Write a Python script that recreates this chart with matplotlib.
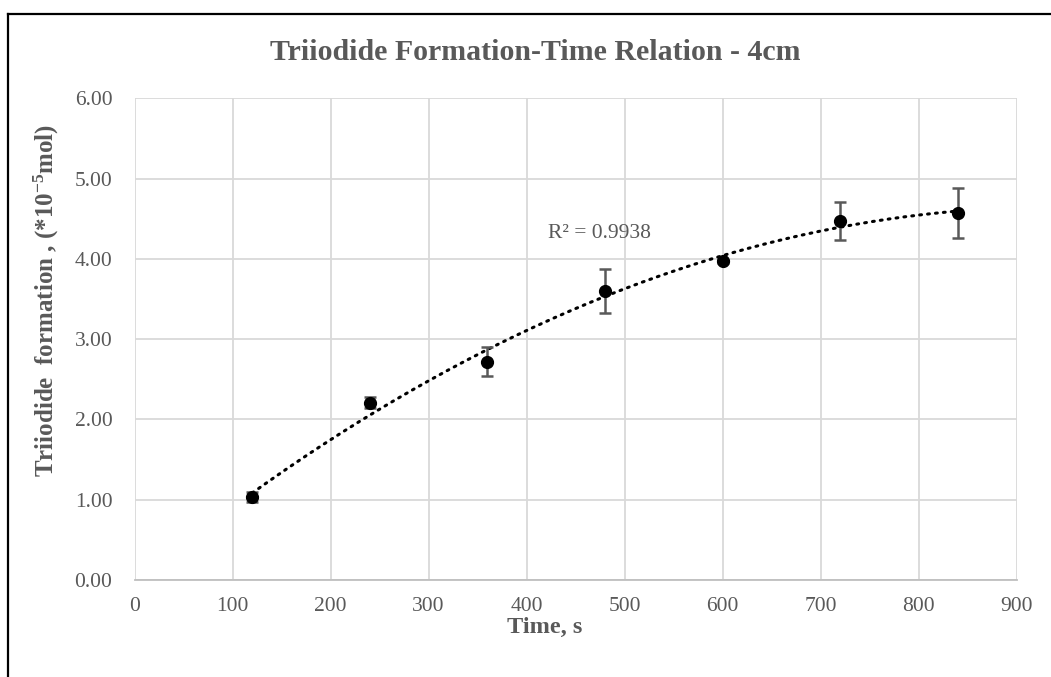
import matplotlib
matplotlib.use("Agg")
import matplotlib.pyplot as plt
from matplotlib.lines import Line2D
import numpy as np

plt.rcParams['font.family'] = ['Liberation Serif', 'DejaVu Serif']
plt.rcParams['mathtext.fontset'] = 'custom'
plt.rcParams['mathtext.rm'] = 'Liberation Serif:bold'
plt.rcParams['mathtext.default'] = 'rm'

# data
time_s = [120, 240, 360, 480, 600, 720, 840]
triiodide = [1.03, 2.21, 2.72, 3.60, 3.97, 4.47, 4.57]
err = [0.06, 0.07, 0.18, 0.27, 0.02, 0.24, 0.31]
r2_label = "R\u00b2 = 0.9938"

grey = '#595959'

fig = plt.figure(figsize=(10.51, 6.77), dpi=100)
ax = fig.add_axes([0.128, 0.1433, 0.8394, 0.7115])

# polynomial (order 2) trendline like Excel
coef = np.polyfit(time_s, triiodide, 2)
xs = np.linspace(min(time_s), max(time_s), 200)
ax.plot(xs, np.polyval(coef, xs), color='black', lw=2.2,
        linestyle=(0, (0.6, 2.0)), dash_capstyle='round', zorder=3)

ax.errorbar(time_s, triiodide, yerr=err, fmt='o', color='black', ms=8.5,
            ecolor=grey, elinewidth=1.8, capsize=4.5, capthick=1.8, zorder=4)

ax.text(474, 4.32, r2_label, ha='center', va='center', fontsize=15.5, color=grey)

ax.set_xlim(0, 900)
ax.set_ylim(0, 6)
ax.set_xticks(range(0, 901, 100))
ax.set_yticks(np.arange(0, 6.01, 1))
ax.set_yticklabels(['%.2f' % v for v in np.arange(0, 6.01, 1)])
ax.grid(True, color='#d9d9d9', lw=1.3)
ax.set_axisbelow(True)
for s in ['top', 'right', 'left']:
    ax.spines[s].set_visible(False)
ax.spines['bottom'].set_color('#bfbfbf')
ax.spines['bottom'].set_linewidth(1.3)
ax.tick_params(length=0, labelsize=15.5, labelcolor=grey)
ax.tick_params(axis='y', pad=16)
ax.tick_params(axis='x', pad=12)

fig.text(535 / 1051, 1 - 60 / 677, 'Triiodide Formation-Time Relation - 4cm', ha='center', va='baseline',
         fontsize=21.5, fontweight='bold', color=grey)
fig.text(545 / 1051, 1 - 633 / 677, 'Time, s', ha='center', va='baseline',
         fontsize=17.5, fontweight='bold', color=grey)
fig.text(46 / 1051, 1 - 300 / 677, r'Triiodide  formation , (*10$^{-5}$mol)', ha='center', va='center',
         rotation=90, fontsize=18, fontweight='bold', color=grey)

# black frame at top and left
fig.add_artist(Line2D([8 / 1051, 1], [1 - 14 / 677, 1 - 14 / 677], color='black', lw=1.6,
                      transform=fig.transFigure))
fig.add_artist(Line2D([8 / 1051, 8 / 1051], [0, 1 - 14 / 677], color='black', lw=1.6,
                      transform=fig.transFigure))

fig.savefig('out.png', dpi=100)
